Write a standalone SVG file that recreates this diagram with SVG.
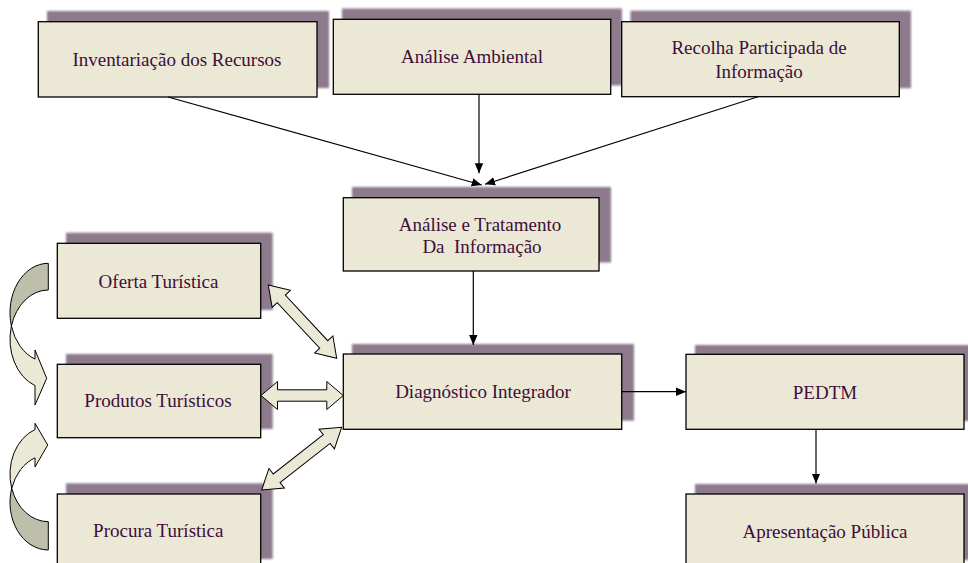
<svg xmlns="http://www.w3.org/2000/svg" width="968" height="563" viewBox="0 0 968 563">
<defs>
<filter id="soft" x="-5%" y="-5%" width="110%" height="110%"><feGaussianBlur stdDeviation="0.8"/></filter>
<marker id="ah" markerUnits="userSpaceOnUse" markerWidth="10" markerHeight="10" viewBox="0 0 10 10" refX="10" refY="5" orient="auto"><path d="M0,0.8 L10,5 L0,9.2 Z" fill="#000"/></marker>
</defs>
<style>
.sh{fill:#8d7a8c;filter:url(#soft)}
.bx{fill:#ebe9d6;stroke:#000;stroke-width:1.3}
.t{font-family:"Liberation Serif","Times New Roman",serif;font-size:19px;fill:#3f0d3b;text-anchor:middle;white-space:pre}
.ln{stroke:#000;stroke-width:1.2;fill:none;marker-end:url(#ah)}
.ba{fill:#ebe9d6;stroke:#000;stroke-width:1}
.dk{fill:#bdbfab;stroke:#000;stroke-width:1}
</style>
<rect width="968" height="563" fill="#fff"/>

<g id="inventariacao">
<rect class="sh" x="47" y="11" width="282" height="77"/>
<rect class="bx" x="38.3" y="21.7" width="278.7" height="75.3"/>
<text class="t" x="177" y="65.7">Inventariação dos Recursos</text>
</g>
<g id="analise-ambiental">
<rect class="sh" x="342" y="8.5" width="280" height="77"/>
<rect class="bx" x="333.3" y="19.3" width="277.4" height="75"/>
<text class="t" x="472" y="63.3">Análise Ambiental</text>
</g>
<g id="recolha">
<rect class="sh" x="630.5" y="10.7" width="280.5" height="77.5"/>
<rect class="bx" x="621.7" y="21.7" width="277.6" height="75"/>
<text class="t" x="759" y="54.3">Recolha Participada de</text>
<text class="t" x="759" y="78.3">Informação</text>
</g>
<g id="analise-tratamento">
<rect class="sh" x="352" y="187" width="259" height="75.5"/>
<rect class="bx" x="343.3" y="197.7" width="255.7" height="73.3"/>
<text class="t" x="480" y="230.7">Análise e Tratamento</text>
<text class="t" x="482" y="252.7">Da  Informação</text>
</g>
<g id="oferta">
<rect class="sh" x="66" y="232.7" width="206.7" height="77.3"/>
<rect class="bx" x="57.3" y="243.3" width="203.4" height="75"/>
<text class="t" x="158.5" y="288.3">Oferta Turística</text>
</g>
<g id="produtos">
<rect class="sh" x="66" y="354" width="206.7" height="75"/>
<rect class="bx" x="57.3" y="364.3" width="203.4" height="73.4"/>
<text class="t" x="158" y="407.3">Produtos Turísticos</text>
</g>
<g id="procura">
<rect class="sh" x="66" y="483.3" width="206.7" height="75.7"/>
<rect class="bx" x="57.3" y="494" width="203.4" height="75"/>
<text class="t" x="158.3" y="536.7">Procura Turística</text>
</g>
<g id="diagnostico">
<rect class="sh" x="352" y="344" width="282" height="76.7"/>
<rect class="bx" x="343.3" y="354" width="278.4" height="75.3"/>
<text class="t" x="483" y="398.3">Diagnóstico Integrador</text>
</g>
<g id="pedtm">
<rect class="sh" x="695" y="345" width="282" height="76"/>
<rect class="bx" x="686" y="354.3" width="278" height="75"/>
<text class="t" x="825" y="399">PEDTM</text>
</g>
<g id="apresentacao">
<rect class="sh" x="695" y="484" width="282" height="76"/>
<rect class="bx" x="686" y="494" width="278" height="75"/>
<text class="t" x="825" y="538.3">Apresentação Pública</text>
</g>

<g id="connectors">
<line class="ln" x1="168" y1="97" x2="481.7" y2="185"/>
<line class="ln" x1="479" y1="94.3" x2="479" y2="173.3"/>
<line class="ln" x1="758" y1="96.7" x2="485" y2="184.3"/>
<line class="ln" x1="473.3" y1="271" x2="473.3" y2="345"/>
<line class="ln" x1="621.7" y1="391.7" x2="686" y2="391.7"/>
<line class="ln" x1="816" y1="429.3" x2="816" y2="483.5"/>
<path class="ba" transform="translate(268.3,285) rotate(47)" d="M0,0 L19,-12.5 L19,-5.5 L81.3,-5.5 L81.3,-12.5 L100.3,0 L81.3,12.5 L81.3,5.5 L19,5.5 L19,12.5 Z"/>
<path class="ba" transform="translate(261,395.5)" d="M0,0 L16.5,-14 L16.5,-5.7 L65.8,-5.7 L65.8,-14 L82.3,0 L65.8,14 L65.8,5.7 L16.5,5.7 L16.5,14 Z"/>
<path class="ba" transform="translate(261.7,490) rotate(-38.1)" d="M0,0 L19,-12.5 L19,-5.5 L82.6,-5.5 L82.6,-12.5 L101.6,0 L82.6,12.5 L82.6,5.5 L19,5.5 L19,12.5 Z"/>
<path class="dk" d="M48.3,263.3 A38.3,49.4 0 0 0 11.4,326 A38.3,49.4 0 0 1 48.3,290 Z"/>
<path class="ba" d="M11.4,326 A38.3,49.4 0 0 0 35,359.1 L35,350 L46.7,378.3 L35,405 L35,385.6 A38.3,49.4 0 0 1 11.4,326 Z"/>
<path class="dk" d="M48.3,550 A38.3,47.55 0 0 1 11.73,488.3 A38.3,47.55 0 0 0 48.3,521.7 Z"/>
<path class="ba" d="M11.73,488.3 A38.3,47.55 0 0 1 35,457.85 L35,467 L47.7,445 L35,423.3 L35,429.55 A38.3,47.55 0 0 0 11.73,488.3 Z"/>
</g>
</svg>
